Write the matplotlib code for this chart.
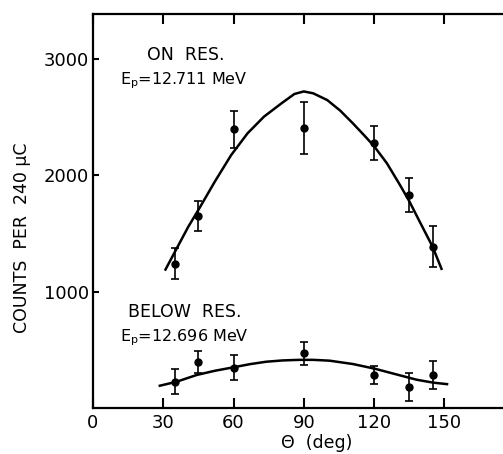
import matplotlib
matplotlib.use("Agg")
import matplotlib.pyplot as plt

# ---- data ----
angles = [35, 45, 60, 90, 120, 135, 145]

on_counts = [1242, 1652, 2397, 2409, 2280, 1832, 1388]
on_err = [136, 128, 159, 225, 148, 146, 178]

below_counts = [226, 393, 347, 470, 284, 183, 284]
below_err = [109, 96, 109, 97, 78, 119, 121]

on_fit_deg = [30.7, 35, 40.7, 45, 52, 59, 66, 73, 80.5, 86, 90, 94, 100, 105.5,
              111, 116, 120, 125.5, 131, 135, 139.5, 145, 149]
on_fit_val = [1181, 1344, 1559, 1703, 1946, 2175, 2362, 2505, 2620, 2700, 2722,
              2706, 2648, 2558, 2447, 2340, 2252, 2104, 1920, 1780, 1602, 1387, 1187]

below_fit_deg = [28, 35.7, 44.3, 52, 60, 67, 74, 81, 88, 94, 101, 111, 120.5,
                 129.7, 138.2, 145.3, 151.7]
below_fit_val = [189, 226, 284, 320, 350, 377, 398, 409, 414, 414, 407, 378, 337,
                 288, 243, 218, 204]

xticks = [0, 30, 60, 90, 120, 150]
yticks = [1000, 2000, 3000]

plt.rcParams['font.family'] = ['DejaVu Sans']

W, H = 503, 454
fig = plt.figure(figsize=(W / 100, H / 100), dpi=100)
x0, x1 = 93, 503
y0, y1 = 408, 14
ax = fig.add_axes([x0 / W, (H - y0) / H, (x1 - x0) / W, (y0 - y1) / H])

ax.plot(on_fit_deg, on_fit_val, color='black', lw=1.8, solid_capstyle='butt',
        solid_joinstyle='round')
ax.plot(below_fit_deg, below_fit_val, color='black', lw=1.8, solid_capstyle='butt',
        solid_joinstyle='round')

for vals, errs in ((on_counts, on_err), (below_counts, below_err)):
    ax.errorbar(angles, vals, yerr=errs, fmt='o', color='black', ms=5,
                elinewidth=1.2, capsize=3, capthick=1.2)

ax.set_xlim(0, (x1 - x0) / 2.342)
ax.set_ylim(0, (y0 - y1) / 0.1163)

ax.set_xticks(xticks)
ax.set_xticklabels([str(t) for t in xticks], fontsize=13)
ax.set_yticks(yticks)
ax.set_yticklabels([str(t) for t in yticks], fontsize=13)
ax.tick_params(axis='x', direction='in', length=7, width=1.5, top=True, pad=4)
ax.tick_params(axis='y', direction='in', length=4, width=1.5, right=False, pad=3)

for s in ('left', 'bottom', 'top'):
    ax.spines[s].set_linewidth(1.6)
ax.spines['right'].set_visible(False)

ax.text(23, 2992, 'ON  RES.', fontsize=12.5, va='baseline')
ax.text(11.5, 2786, r'E$_{\mathregular{p}}$=12.711 MeV', fontsize=11.5, va='baseline')
ax.text(15, 782, 'BELOW  RES.', fontsize=12.5, va='baseline')
ax.text(11.5, 576, r'E$_{\mathregular{p}}$=12.696 MeV', fontsize=11.5, va='baseline')

fig.text(317 / W, 1 - 443 / H, 'Θ  (deg)', fontsize=12.5, ha='center', va='center')
fig.text(22 / W, 1 - 238 / H, 'COUNTS  PER  240 μC', fontsize=12.5, rotation=90,
         ha='center', va='center')

fig.savefig('out.png', dpi=100)
